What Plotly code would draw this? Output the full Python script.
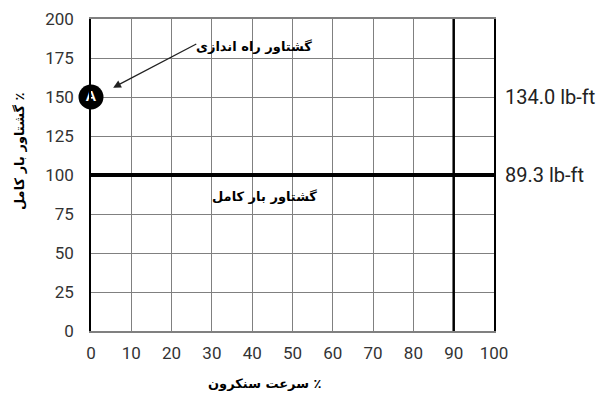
import plotly.graph_objs as go

# داده‌ها
speed_ticks = [0, 10, 20, 30, 40, 50, 60, 70, 80, 90, 100]
torque_ticks = [0, 25, 50, 75, 100, 125, 150, 175, 200]

full_load_pct = [100, 100]
full_load_x = [0, 100]
sync_speed_pct = [90, 90]
sync_speed_y = [0, 200]

point_a = dict(x=0, y=150, label='A')
right_labels = ['134.0 lb-ft', '89.3 lb-ft']
right_label_y = [150, 100]

RLM = '\u200f'
arabic_font = 'DejaVu Sans'
num_font = 'Roboto'

fig = go.Figure()

# خط گشتاور بار کامل
fig.add_trace(go.Scatter(
    x=full_load_x, y=full_load_pct, mode='lines',
    line=dict(color='black', width=4), showlegend=False, hoverinfo='skip'
))

# خط عمودی در ۹۰٪
fig.add_trace(go.Scatter(
    x=sync_speed_pct, y=sync_speed_y, mode='lines',
    line=dict(color='black', width=2.5), showlegend=False, hoverinfo='skip'
))

# نقطه A
fig.add_trace(go.Scatter(
    x=[point_a['x']], y=[point_a['y']], mode='markers+text',
    marker=dict(size=25, color='black'),
    text=['<b>' + point_a['label'] + '</b>'],
    textposition='middle center',
    textfont=dict(color='white', size=15, family='Liberation Sans'),
    cliponaxis=False, showlegend=False, hoverinfo='skip'
))

# برچسب‌های سمت راست
for lbl, yv in zip(right_labels, right_label_y):
    fig.add_annotation(
        x=1, xref='paper', y=yv, yref='y', text=lbl, showarrow=False,
        xanchor='left', xshift=9,
        font=dict(family=num_font, size=20, color='#222222')
    )

# متن گشتاور راه اندازی با فلش
fig.add_annotation(
    x=5.5, y=156, ax=26.5, ay=184.5, axref='x', ayref='y',
    xref='x', yref='y', text='', showarrow=True,
    arrowhead=2, arrowsize=1.2, arrowwidth=1.3, arrowcolor='#222222'
)
fig.add_annotation(
    x=40.5, y=182.5, text='<b>گشتاور راه اندازی</b>', showarrow=False,
    xanchor='center', font=dict(family=arabic_font, size=13, color='black')
)

# متن گشتاور بار کامل
fig.add_annotation(
    x=43, y=86.5, text='<b>گشتاور بار کامل</b>', showarrow=False,
    xanchor='center', font=dict(family=arabic_font, size=13, color='black')
)

# عنوان محورها
fig.add_annotation(
    x=43, xref='x', y=-0.167, yref='paper',
    text='<b>' + RLM + '٪ سرعت سنکرون</b>', showarrow=False,
    xanchor='center', yanchor='middle',
    font=dict(family=arabic_font, size=13, color='black')
)
fig.add_annotation(
    x=-0.176, xref='paper', y=0.574, yref='paper', textangle=-90,
    text='<b>' + RLM + '٪ گشتاور بار کامل</b>', showarrow=False,
    xanchor='center', yanchor='middle',
    font=dict(family=arabic_font, size=13, color='black')
)

# صفحه با حاشیه ۸ پیکسلی بدنه نمایش داده می‌شود
fig.update_layout(
    width=601, height=396,
    margin=dict(l=83, r=115, t=11, b=73),
    paper_bgcolor='white', plot_bgcolor='white',
    showlegend=False,
    xaxis=dict(
        range=[0, 100], tickvals=speed_ticks, showgrid=True,
        gridcolor='#808080', gridwidth=1.3, zeroline=False,
        showline=True, linecolor='#808080', linewidth=1.5, mirror=True,
        ticks='outside', ticklen=6, tickcolor='rgba(0,0,0,0)',
        tickfont=dict(family=num_font, size=17, color='#333333'),
        automargin=False
    ),
    yaxis=dict(
        range=[0, 200], tickvals=torque_ticks, showgrid=True,
        gridcolor='#808080', gridwidth=1.3, zeroline=False,
        showline=True, linecolor='black', linewidth=1.5, mirror=True,
        ticks='outside', ticklen=12, tickcolor='rgba(0,0,0,0)',
        tickfont=dict(family=num_font, size=17, color='#333333'),
        automargin=False
    ),
)

fig.write_html('out.html')
